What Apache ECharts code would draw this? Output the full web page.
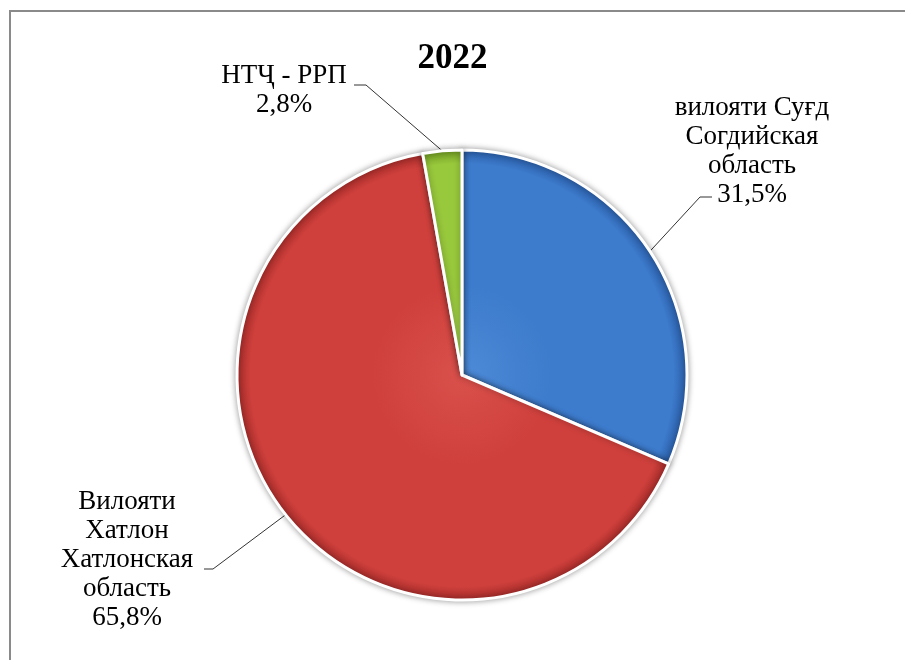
<!DOCTYPE html>
<html>
<head>
<meta charset="utf-8">
<script src="https://cdn.jsdelivr.net/npm/echarts@6/dist/echarts.min.js"></script>
<style>
  html, body { margin: 0; padding: 0; background: #fff; }
  #chart { width: 905px; height: 660px; }
</style>
</head>
<body>
<div id="chart"></div>
<script>
const titleText = '2022'
const regions = [
  'вилояти Суғд\nСогдийская\nобласть',
  'Вилояти\nХатлон\nХатлонская\nобласть',
  'НТҶ - РРП',
]
const shares = [31.5, 65.8, 2.8]
const valueLabels = ['31,5%', '65,8%', '2,8%']

const cx = 462, cy = 375, R = 225
const fills = [
  ['#4d8ad6', '#3d7bcc', '#2a5ea8'],
  ['#d9504b', '#cf403c', '#a62c2a'],
  ['#a8d452', '#98c83c', '#6f9a22'],
]

// where each label sits and how its leader bends
const labelPos = [
  { x: 752, y: 151, bend: [700, 197], end: [712, 197] },
  { x: 127, y: 560, bend: [213, 569], end: [204, 569] },
  { x: 284, y: 90, bend: [366, 85], end: [354, 85] },
]

const chart = echarts.init(document.getElementById('chart'))

function grad(c) {
  return {
    type: 'radial', x: cx, y: cy, r: R, global: true,
    colorStops: [
      { offset: 0, color: c[0] },
      { offset: 0.4, color: c[1] },
      { offset: 0.94, color: c[1] },
      { offset: 1, color: c[2] },
    ],
  }
}

const option = {
  animation: false,
  backgroundColor: '#fff',
  title: {
    text: titleText,
    left: 'center',
    top: 36,
    textStyle: { fontFamily: 'Liberation Serif', fontSize: 35, fontWeight: 'bold', color: '#000' },
  },
  graphic: [
    {
      type: 'polyline',
      shape: { points: [[10, 660], [10, 11], [905, 11]] },
      style: { stroke: '#8a8a8a', lineWidth: 2, fill: null },
    },
  ],
  series: [
    {
      type: 'pie',
      center: [cx, cy],
      radius: R,
      startAngle: 90,
      clockwise: true,
      itemStyle: {
        borderColor: '#fff',
        borderWidth: 3,
        shadowBlur: 6,
        shadowColor: 'rgba(0,0,0,0.35)',
      },
      label: {
        show: true,
        fontFamily: 'Liberation Serif',
        fontSize: 27,
        lineHeight: 29,
        color: '#000',
        align: 'center',
        formatter: (p) => regions[p.dataIndex] + '\n' + valueLabels[p.dataIndex],
      },
      labelLine: {
        show: true,
        lineStyle: { color: '#333', width: 1 },
      },
      labelLayout: (params) => {
        const lp = labelPos[params.dataIndex]
        const pts = params.labelLinePoints
        return {
          x: lp.x,
          y: lp.y,
          align: 'center',
          verticalAlign: 'middle',
          labelLinePoints: [pts[0], lp.bend, lp.end],
        }
      },
      emphasis: { disabled: true },
      data: shares.map((v, i) => ({
        value: v,
        name: regions[i],
        itemStyle: { color: grad(fills[i]) },
      })),
    },
  ],
}

chart.setOption(option)
</script>
</body>
</html>
